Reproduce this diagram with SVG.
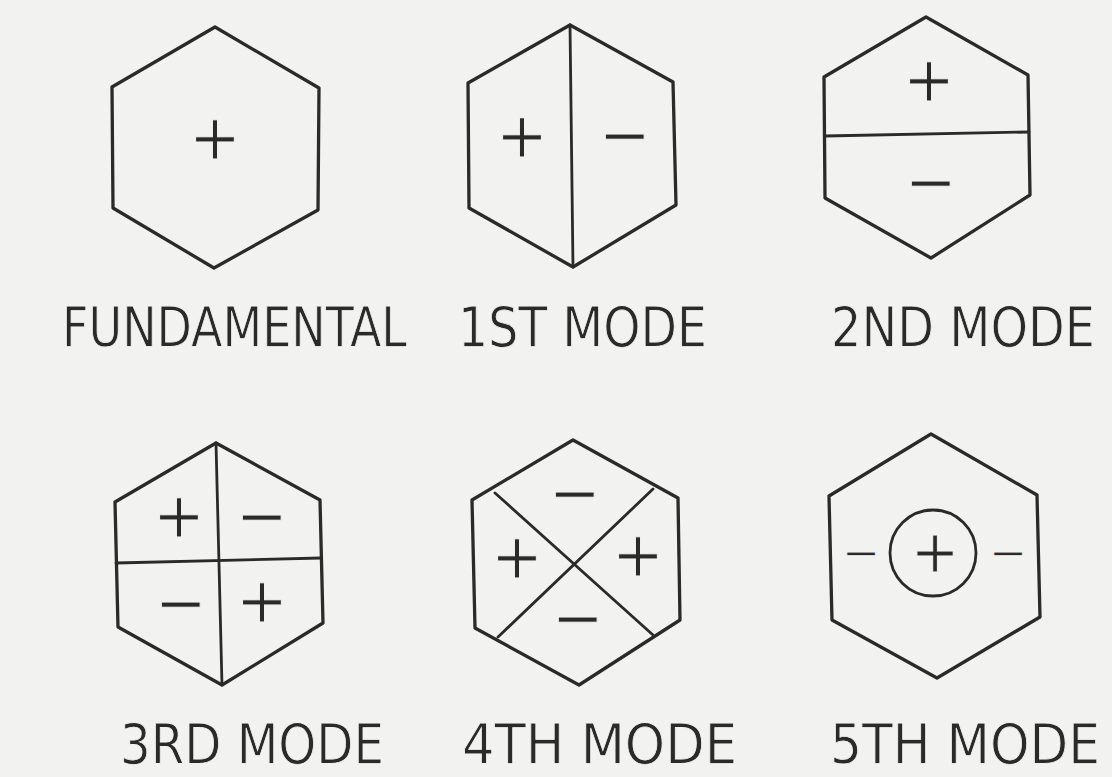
<svg xmlns="http://www.w3.org/2000/svg" width="1112" height="777" viewBox="0 0 1112 777">
<style>
.hex{fill:none;stroke:#2a2a2a;stroke-width:3.3;stroke-linejoin:round}
.div{fill:none;stroke:#2a2a2a;stroke-width:2.8;stroke-linecap:round}
.sym{font-family:"DejaVu Sans",sans-serif;font-size:62px;fill:#2a2a2a;text-anchor:middle;stroke:#f2f2f0;stroke-width:1}
.lbl{font-family:"DejaVu Sans Condensed","DejaVu Sans",sans-serif;font-size:56px;fill:#2a2a2a;stroke:#f2f2f0;stroke-width:0.8}
</style>
<rect width="1112" height="777" fill="#f2f2f0"/>
<g id="fundamental">
<polygon class="hex" points="215,27 319,88 318,210 214,268 113,208 112,87"/>
<text class="sym" x="215" y="159">+</text>
<text class="lbl" x="62" y="346" textLength="345" lengthAdjust="spacingAndGlyphs">FUNDAMENTAL</text>
</g>
<g id="mode1">
<polygon class="hex" points="570,25 673,82 676,205 573,267 469,208 468,83"/>
<line class="div" x1="570" y1="25" x2="573" y2="267"/>
<text class="sym" x="522" y="157">+</text>
<text class="sym" x="625" y="156">−</text>
<text class="lbl" x="458" y="346" textLength="249" lengthAdjust="spacingAndGlyphs">1ST MODE</text>
</g>
<g id="mode2">
<polygon class="hex" points="926,17 1028,75 1030,195 931,258 825,198 824,77"/>
<line class="div" x1="825" y1="136" x2="1029" y2="132"/>
<text class="sym" x="929" y="101">+</text>
<text class="sym" x="931" y="203">−</text>
<text class="lbl" x="831" y="346" textLength="264" lengthAdjust="spacingAndGlyphs">2ND MODE</text>
</g>
<g id="mode3">
<polygon class="hex" points="216,443 320,500 323,623 222,685 118,627 115,502"/>
<line class="div" x1="216" y1="443" x2="222" y2="685"/>
<line class="div" x1="116" y1="563" x2="321" y2="558"/>
<text class="sym" x="179" y="537">+</text>
<text class="sym" x="262" y="537">−</text>
<text class="sym" x="181" y="624">−</text>
<text class="sym" x="262" y="622">+</text>
<text class="lbl" x="120" y="763" textLength="264" lengthAdjust="spacingAndGlyphs">3RD MODE</text>
</g>
<g id="mode4">
<polygon class="hex" points="573,440 678,498 680,620 579,685 475,628 472,500"/>
<line class="div" x1="495" y1="493" x2="653" y2="635"/>
<line class="div" x1="653" y1="489" x2="498" y2="637"/>
<text class="sym" x="575" y="514">−</text>
<text class="sym" x="578" y="639">−</text>
<text class="sym" x="517" y="578">+</text>
<text class="sym" x="638" y="576">+</text>
<text class="lbl" x="462" y="763" textLength="275" lengthAdjust="spacingAndGlyphs">4TH MODE</text>
</g>
<g id="mode5">
<polygon class="hex" points="931,434 1037,495 1040,617 937,678 832,620 829,496"/>
<circle class="div" cx="933" cy="553" r="43"/>
<text class="sym" x="935" y="572" style="font-size:58px">+</text>
<text class="sym" x="861" y="568" style="font-size:46px">−</text>
<text class="sym" x="1008" y="568" style="font-size:46px">−</text>
<text class="lbl" x="830" y="763" textLength="270" lengthAdjust="spacingAndGlyphs">5TH MODE</text>
</g>
<g id="connectors"/>
</svg>
